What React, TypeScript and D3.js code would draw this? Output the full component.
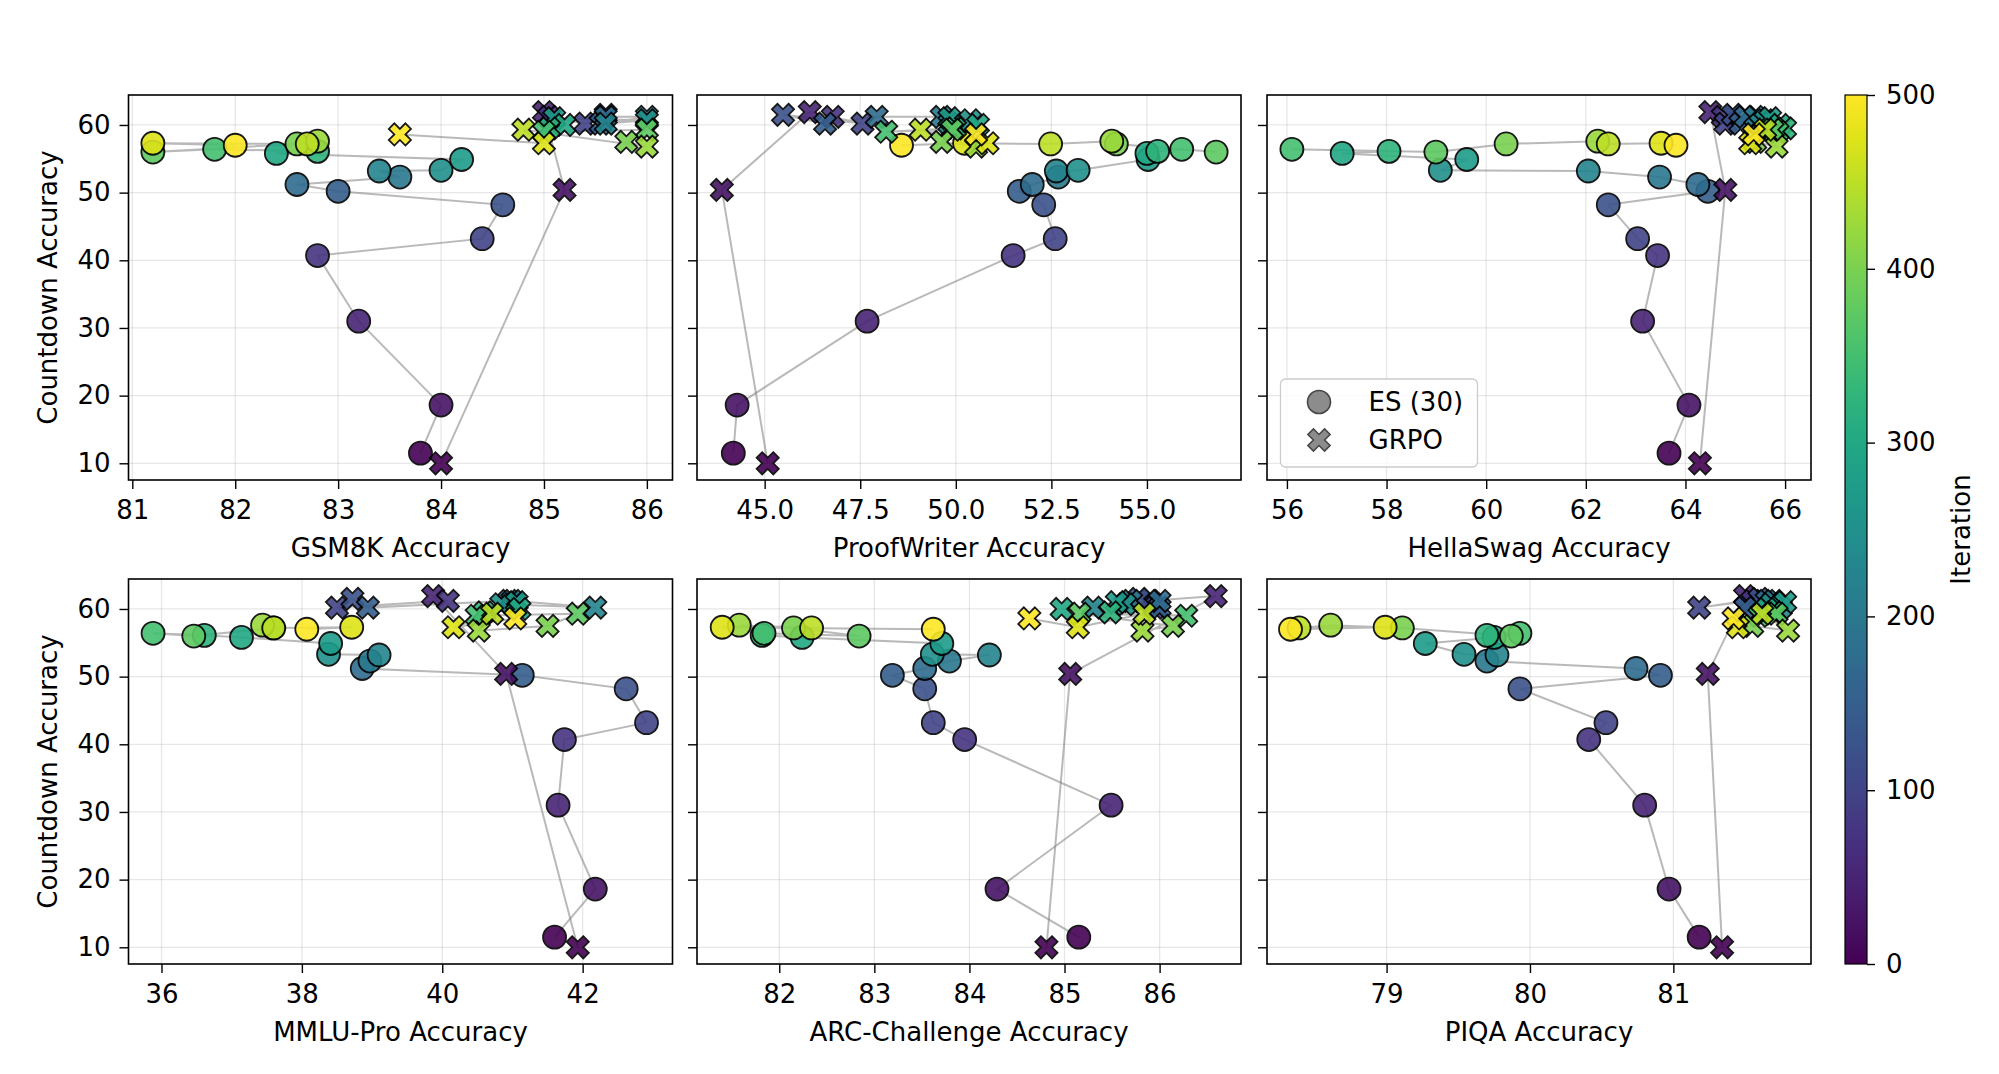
import React, { useEffect, useRef } from "react";
import * as d3 from "d3";

// checkpoints (iteration) shared by both methods
const iterations = [0, 25, 50, 75, 100, 125, 150, 175, 200, 225, 250, 275, 300, 325, 350, 375, 400, 425, 450, 475, 500];

// Countdown accuracy (y) per checkpoint
const esCountdown = [11.5, 18.6, 31.0, 40.7, 43.2, 48.2, 50.2, 51.2, 52.3, 53.2, 53.3, 54.9, 55.8, 56.1, 56.4, 56.0, 57.2, 57.6, 57.2, 57.3, 57.0];
const grpoCountdown = [10.0, 50.4, 61.9, 61.2, 60.2, 61.5, 60.2, 61.2, 61.2, 60.2, 60.7, 61.0, 60.0, 59.5, 59.0, 59.3, 57.5, 56.8, 59.3, 57.3, 58.6];

// benchmark accuracies (x) per checkpoint
const esGsm8k = [83.8, 84.0, 83.2, 82.8, 84.4, 84.6, 83.0, 82.6, 83.6, 83.4, 84.0, 84.2, 82.4, 82.8, 81.8, 81.2, 82.6, 82.8, 82.7, 81.2, 82.0];
const grpoGsm8k = [84.0, 85.2, 85.0, 85.05, 85.4, 85.6, 85.55, 85.6, 86.0, 85.6, 86.0, 85.1, 85.2, 85.05, 85.0, 86.0, 85.8, 86.0, 84.8, 85.0, 83.6];

const esProofWriter = [44.18, 44.28, 47.68, 51.5, 52.6, 52.3, 51.66, 52.0, 52.68, 52.63, 53.2, 55.03, 55.0, 55.28, 55.91, 56.81, 54.2, 54.08, 52.48, 50.23, 48.58];
const grpoProofWriter = [45.08, 43.88, 46.18, 46.78, 47.56, 45.48, 46.58, 47.93, 49.63, 49.83, 50.38, 49.83, 50.58, 49.98, 48.18, 49.9, 49.63, 50.53, 49.08, 50.83, 50.53];

const esHellaSwag = [63.67, 64.07, 63.14, 63.44, 63.04, 62.45, 64.45, 64.25, 63.48, 62.05, 59.08, 59.61, 57.11, 58.05, 56.1, 58.99, 60.4, 62.24, 62.45, 63.51, 63.81];
const grpoHellaSwag = [64.29, 64.8, 64.5, 64.75, 64.8, 64.95, 65.1, 65.2, 65.4, 65.5, 65.6, 65.7, 65.9, 66.0, 65.85, 65.75, 65.4, 65.83, 65.6, 65.3, 65.37];

const esMmluPro = [41.6, 42.18, 41.65, 41.74, 42.91, 42.62, 41.14, 38.86, 38.97, 39.1, 38.38, 38.41, 37.14, 36.61, 35.88, 36.46, 37.59, 37.44, 37.6, 38.71, 38.07];
const grpoMmluPro = [41.93, 40.91, 39.87, 40.08, 38.5, 38.72, 38.94, 40.95, 41.0, 42.18, 40.84, 41.06, 41.1, 40.6, 40.49, 41.93, 41.5, 40.52, 40.71, 40.16, 41.04];

const esArc = [85.15, 84.29, 85.49, 83.95, 83.62, 83.53, 83.19, 83.53, 83.79, 84.21, 83.61, 83.71, 82.24, 81.82, 81.84, 82.84, 82.15, 81.58, 82.34, 81.4, 83.62];
const grpoArc = [84.81, 85.06, 86.59, 85.9, 85.95, 85.78, 86.0, 86.0, 85.7, 85.3, 85.64, 85.55, 84.97, 85.48, 86.28, 85.16, 86.14, 85.82, 85.84, 85.14, 84.63];

const esPiqa = [81.18, 80.97, 80.8, 80.41, 80.53, 79.93, 80.91, 80.74, 79.7, 79.77, 79.54, 79.27, 79.75, 79.7, 79.93, 79.87, 79.11, 78.61, 78.39, 78.99, 78.33];
const grpoPiqa = [81.34, 81.24, 81.5, 81.55, 81.18, 81.6, 81.5, 81.65, 81.7, 81.75, 81.68, 81.78, 81.65, 81.7, 81.6, 81.72, 81.55, 81.8, 81.62, 81.45, 81.42];

const benchmarks = ["GSM8K", "ProofWriter", "HellaSwag", "MMLU-Pro", "ARC-Challenge", "PIQA"];
const esSeries = [esGsm8k, esProofWriter, esHellaSwag, esMmluPro, esArc, esPiqa];
const grpoSeries = [grpoGsm8k, grpoProofWriter, grpoHellaSwag, grpoMmluPro, grpoArc, grpoPiqa];
const xLimits: [number, number][] = [
  [80.963, 86.249],
  [43.23, 57.46],
  [55.6, 66.52],
  [35.53, 43.28],
  [81.135, 86.856],
  [78.166, 81.96],
];
const xTicks = [
  [81, 82, 83, 84, 85, 86],
  [45, 47.5, 50, 52.5, 55],
  [56, 58, 60, 62, 64, 66],
  [36, 38, 40, 42],
  [82, 83, 84, 85, 86],
  [79, 80, 81],
];
const yLimits: [number, number] = [7.53, 64.43];
const yTicks = [10, 20, 30, 40, 50, 60];
const cbTicks = [0, 100, 200, 300, 400, 500];
const legendLabels = ["ES (30)", "GRPO"];

const W = 1999;
const H = 1074;
const FONT = "DejaVu Sans, sans-serif";
const FS = 26;

// matplotlib's filled "X" marker: a plus rotated by 45 degrees
function xMarker(s: number) {
  const pts = [[-1, -3], [1, -3], [1, -1], [3, -1], [3, 1], [1, 1], [1, 3], [-1, 3], [-1, 1], [-3, 1], [-3, -1], [-1, -1]];
  const k = s / 6 / Math.SQRT2;
  return "M" + pts.map(([a, b]) => `${((a - b) * k).toFixed(2)},${((a + b) * k).toFixed(2)}`).join("L") + "Z";
}

export default function App() {
  const svgRef = useRef<SVGSVGElement>(null);

  useEffect(() => {
    if (!svgRef.current) return;
    const svg = d3.select(svgRef.current);
    svg.selectAll("*").remove();

    svg.append("rect").attr("width", W).attr("height", H).attr("fill", "white");

    const cols = [128.5, 697, 1267];
    const rows = [95, 579];
    const axW = 544;
    const axH = 385;
    const color = d3.scaleSequential(d3.interpolateViridis).domain([0, 500]);
    const xPath = xMarker(23.5);

    benchmarks.forEach((name, i) => {
      const left = cols[i % 3];
      const top = rows[Math.floor(i / 3)];
      const x = d3.scaleLinear().domain(xLimits[i]).range([0, axW]);
      const y = d3.scaleLinear().domain(yLimits).range([axH, 0]);
      const g = svg.append("g").attr("transform", `translate(${left},${top})`);

      // grid
      g.append("g").selectAll("line").data(xTicks[i]).join("line")
        .attr("x1", d => x(d)).attr("x2", d => x(d)).attr("y1", 0).attr("y2", axH)
        .attr("stroke", "#b0b0b0").attr("stroke-opacity", 0.3).attr("stroke-width", 1.3);
      g.append("g").selectAll("line").data(yTicks).join("line")
        .attr("y1", d => y(d)).attr("y2", d => y(d)).attr("x1", 0).attr("x2", axW)
        .attr("stroke", "#b0b0b0").attr("stroke-opacity", 0.3).attr("stroke-width", 1.3);

      const plot = g.append("g");
      const es = iterations.map((it, k) => ({ it, x: esSeries[i][k], y: esCountdown[k] }));
      const grpo = iterations.map((it, k) => ({ it, x: grpoSeries[i][k], y: grpoCountdown[k] }));
      const line = d3.line<{ x: number; y: number }>().x(d => x(d.x)).y(d => y(d.y));

      [es, grpo].forEach(pts => {
        plot.append("path").datum(pts).attr("d", line)
          .attr("fill", "none").attr("stroke", "#808080").attr("stroke-opacity", 0.55).attr("stroke-width", 2);
      });

      plot.append("g").selectAll("circle").data(es).join("circle")
        .attr("cx", d => x(d.x)).attr("cy", d => y(d.y)).attr("r", 11.5)
        .attr("fill", d => color(d.it)).attr("stroke", "#000").attr("stroke-width", 1.8).attr("opacity", 0.9);

      plot.append("g").selectAll("path").data(grpo).join("path")
        .attr("transform", d => `translate(${x(d.x)},${y(d.y)})`).attr("d", xPath)
        .attr("fill", d => color(d.it)).attr("stroke", "#000").attr("stroke-width", 1.8)
        .attr("stroke-linejoin", "miter").attr("opacity", 0.9);

      // frame
      g.append("rect").attr("width", axW).attr("height", axH)
        .attr("fill", "none").attr("stroke", "#000").attr("stroke-width", 1.6);

      // x axis
      const fmt = i === 1 ? d3.format(".1f") : d3.format("d");
      const xa = g.append("g").attr("transform", `translate(0,${axH})`)
        .call(d3.axisBottom(x).tickValues(xTicks[i]).tickFormat(d => fmt(d as number)).tickSize(9).tickPadding(12));
      xa.select(".domain").remove();
      xa.selectAll("line").attr("stroke", "#000").attr("stroke-width", 1.4);
      xa.selectAll("text").attr("font-size", FS).attr("font-family", FONT).attr("fill", "#000");
      xa.attr("font-family", null).attr("font-size", null);

      // y axis
      const ya = g.append("g")
        .call(d3.axisLeft(y).tickValues(yTicks).tickFormat(d => (i % 3 === 0 ? d3.format("d")(d as number) : "")).tickSize(9).tickPadding(9));
      ya.select(".domain").remove();
      ya.selectAll("line").attr("stroke", "#000").attr("stroke-width", 1.4);
      ya.selectAll("text").attr("font-size", FS).attr("font-family", FONT).attr("fill", "#000");
      ya.attr("font-family", null).attr("font-size", null);

      g.append("text").attr("x", axW / 2).attr("y", axH + 77).attr("text-anchor", "middle")
        .attr("font-size", FS).attr("font-family", FONT).attr("fill", "#000").text(`${name} Accuracy`);

      if (i % 3 === 0) {
        svg.append("text")
          .attr("transform", `translate(57,${top + axH / 2}) rotate(-90)`)
          .attr("text-anchor", "middle").attr("font-size", FS).attr("font-family", FONT).attr("fill", "#000")
          .text("Countdown Accuracy");
      }

      // legend in the HellaSwag panel
      if (i === 2) {
        const lg = svg.append("g").attr("transform", "translate(1280.5,379)");
        lg.append("rect").attr("width", 197).attr("height", 88).attr("rx", 5)
          .attr("fill", "white").attr("fill-opacity", 0.8).attr("stroke", "#cccccc").attr("stroke-width", 1.3);
        lg.append("circle").attr("cx", 38.5).attr("cy", 23).attr("r", 11.5)
          .attr("fill", "#808080").attr("stroke", "#333").attr("stroke-width", 1.6).attr("opacity", 0.9);
        lg.append("path").attr("d", xPath).attr("transform", "translate(38.5,61)")
          .attr("fill", "#808080").attr("stroke", "#333").attr("stroke-width", 1.6).attr("opacity", 0.9);
        legendLabels.forEach((t, k) => {
          lg.append("text").attr("x", 88).attr("y", 23 + k * 38).attr("dy", "0.36em")
            .attr("font-size", FS).attr("font-family", FONT).attr("fill", "#000").text(t);
        });
      }
    });

    // colorbar
    const cbX = 1845;
    const cbW = 22;
    const cbTop = 95;
    const cbBot = 964;
    const grad = svg.append("defs").append("linearGradient").attr("id", "viridis")
      .attr("x1", 0).attr("y1", 1).attr("x2", 0).attr("y2", 0);
    d3.range(0, 1.0001, 0.05).forEach(t => {
      grad.append("stop").attr("offset", t).attr("stop-color", d3.interpolateViridis(t));
    });
    svg.append("rect").attr("x", cbX).attr("y", cbTop).attr("width", cbW).attr("height", cbBot - cbTop)
      .attr("fill", "url(#viridis)").attr("stroke", "#000").attr("stroke-width", 1.2);
    const cbScale = d3.scaleLinear().domain([0, 500]).range([cbBot, cbTop]);
    const cba = svg.append("g").attr("transform", `translate(${cbX + cbW},0)`)
      .call(d3.axisRight(cbScale).tickValues(cbTicks).tickSize(8).tickPadding(11));
    cba.select(".domain").remove();
    cba.selectAll("line").attr("stroke", "#000").attr("stroke-width", 1.4);
    cba.selectAll("text").attr("font-size", FS).attr("font-family", FONT).attr("fill", "#000");
    cba.attr("font-family", null).attr("font-size", null);
    svg.append("text").attr("transform", `translate(1970,${(cbTop + cbBot) / 2}) rotate(-90)`)
      .attr("text-anchor", "middle").attr("font-size", FS).attr("font-family", FONT).attr("fill", "#000")
      .text("Iteration");
  }, []);

  return (
    <div style={{ position: "absolute", left: 0, top: 0 }}>
      <svg ref={svgRef} width={W} height={H} style={{ display: "block" }} />
    </div>
  );
}
